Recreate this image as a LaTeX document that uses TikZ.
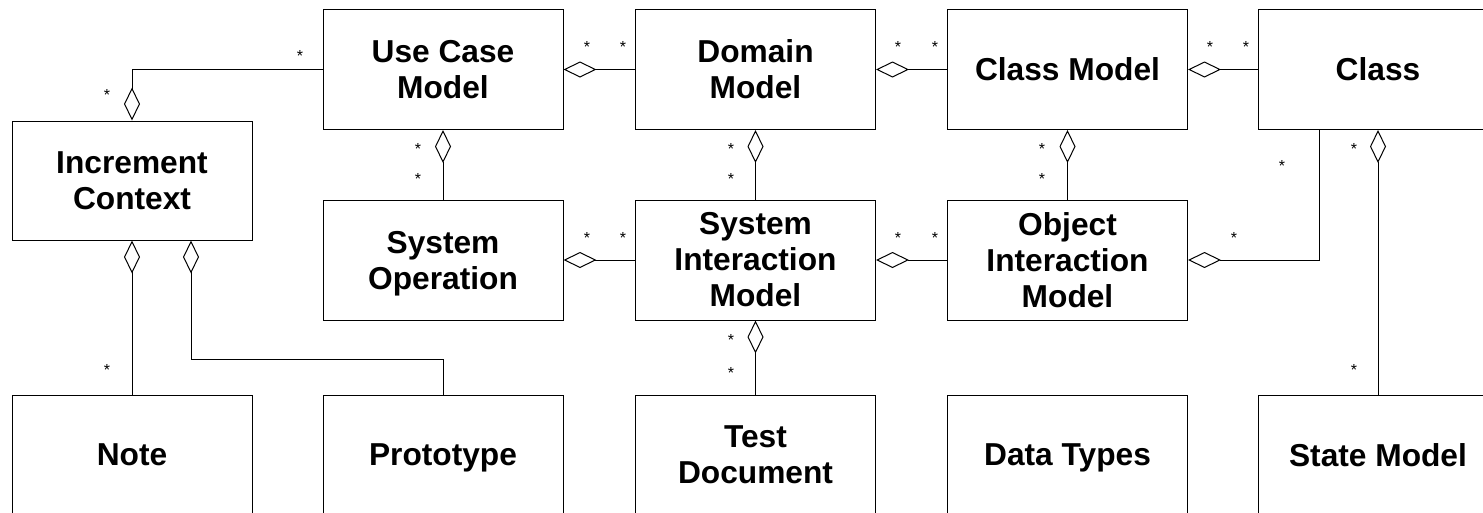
\documentclass[tikz,border=0pt]{standalone}
\usepackage{fontspec}
\usepackage{amsmath}
\setmainfont{Liberation Sans}
\usetikzlibrary{arrows.meta}
\begin{document}
\begin{tikzpicture}[x=1pt,y=-1pt,
  box/.style={draw, line width=1pt, minimum width=240pt, minimum height=120pt, inner sep=0pt, align=center, font=\fontsize{31.7}{36}\selectfont\bfseries},
  conn/.style={line width=1pt},
  agg/.style={conn, -{Diamond[open,length=33pt,width=16pt]}},
  mult/.style={font=\fontsize{16}{16}\selectfont, inner sep=0pt, anchor=north}]
\useasboundingbox (0,0) rectangle (1483,512);
\clip (0,0) rectangle (1483,512);
% boxes
\node[box] (uc) at (443,69.5) {Use Case\\Model};
\node[box] (dm) at (755.5,69.5) {Domain\\Model};
\node[box] (cm) at (1067.5,69.5) {Class Model};
\node[box] (cl) at (1378,69.5) {Class};
\node[box, minimum height=119pt] (ic) at (132,180.5) {Increment\\Context};
\node[box] (so) at (443,260) {System\\\smash[b]{Operation}};
\node[box] (sim) at (755.5,260) {System\\Interaction\\Model};
\node[box] (oim) at (1067.5,260) {Object\\Interaction\\Model};
\node[box] (note) at (132,455) {Note};
\node[box] (proto) at (443,455) {\smash[b]{Prototype}};
\node[box] (td) at (755.5,455) {Test\\Document};
\node[box] (dt) at (1067.5,455) {\smash[b]{Data Types}};
\node[box] (sm) at (1378,455) {State Model};
% connectors
\draw[agg] (uc.west) -| (ic.north);
\draw[agg] (dm.west) -- (uc.east);
\draw[agg] (cm.west) -- (dm.east);
\draw[agg] (cl.west) -- (cm.east);
\draw[agg] (so.north) -- (uc.south);
\draw[agg] (sim.north) -- (dm.south);
\draw[agg] (oim.north) -- (cm.south);
\draw[agg] (sim.west) -- (so.east);
\draw[agg] (oim.west) -- (sim.east);
\draw[agg] ([xshift=-59pt]cl.south) |- (oim.east);
\draw[agg] (sm.north) -- (cl.south);
\draw[agg] (note.north) -- (ic.south);
\coordinate (pbend) at (191,359);
\draw[agg] (proto.north) |- (pbend) -- ([xshift=59pt]ic.south);
\draw[agg] (td.north) -- (sim.south);
% multiplicities
\node[mult] (m1) at (300,50) {*};
\node[mult] (m2) at (107,89.5) {*};
\node[mult] (m3) at (418,143.5) {*};
\node[mult] (m4) at (418,173.5) {*};
\node[mult] (m5) at (587,41) {*};
\node[mult] (m6) at (623,41) {*};
\node[mult] (m7) at (731,143.5) {*};
\node[mult] (m8) at (731,173.5) {*};
\node[mult] (m9) at (898,41) {*};
\node[mult] (m10) at (935,41) {*};
\node[mult] (m11) at (1210,41) {*};
\node[mult] (m12) at (1246,41) {*};
\node[mult] (m13) at (1042,143.5) {*};
\node[mult] (m14) at (1042,173.5) {*};
\node[mult] (m15) at (1282,160.5) {*};
\node[mult] (m16) at (1234,232.5) {*};
\node[mult] (m17) at (1354,143.5) {*};
\node[mult] (m18) at (1354,364.5) {*};
\node[mult] (m19) at (587,232.5) {*};
\node[mult] (m20) at (623,232.5) {*};
\node[mult] (m21) at (898,232.5) {*};
\node[mult] (m22) at (935,232.5) {*};
\node[mult] (m23) at (731,334.5) {*};
\node[mult] (m24) at (731,367.5) {*};
\node[mult] (m25) at (107,364.5) {*};
\end{tikzpicture}
\end{document}
